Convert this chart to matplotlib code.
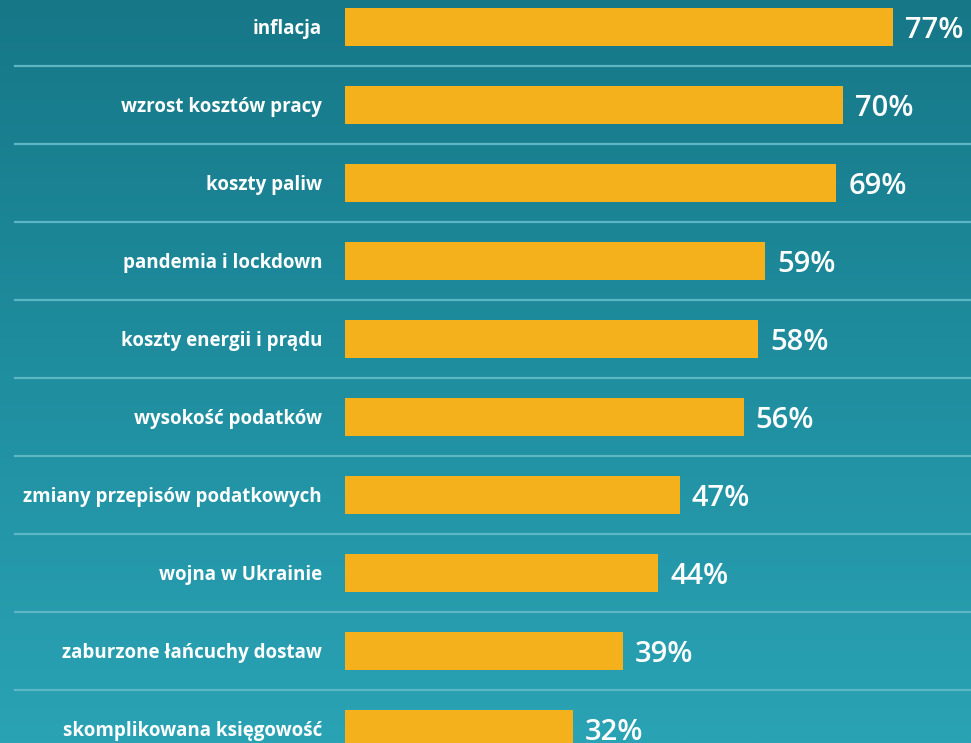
import numpy as np
import matplotlib.pyplot as plt
from matplotlib.colors import LinearSegmentedColormap

# ── data ─────────────────────────────────────────────────────────────────────
labels = ["inflacja", "wzrost kosztów pracy", "koszty paliw",
          "pandemia i lockdown", "koszty energii i prądu", "wysokość podatków",
          "zmiany przepisów podatkowych", "wojna w Ukrainie",
          "zaburzone łańcuchy dostaw", "skomplikowana księgowość"]
values = [77, 70, 69, 59, 58, 56, 47, 44, 39, 32]

bar_col = "#F4B11B"
font = ["Open Sans", "DejaVu Sans"]

fig = plt.figure(figsize=(9.71, 7.43), dpi=100)

# background gradient
bg = fig.add_axes([0, 0, 1, 1], zorder=0)
cmap = LinearSegmentedColormap.from_list("bg", ["#167787", "#1f8e9f", "#2aa3b5"])
grad = np.linspace(0, 1, 256).reshape(-1, 1)
bg.imshow(grad, aspect="auto", cmap=cmap, extent=[0, 1, 0, 1], origin="upper")
bg.set_axis_off()

ax = fig.add_axes([0, 0, 1, 1], zorder=1)
ax.patch.set_alpha(0)
px = 7.12  # pixels per percent
ax.set_xlim(-345 / px, (971 - 345) / px)
ax.set_ylim((743 - 27) / 78, -27 / 78)
ax.set_axis_off()

y = np.arange(len(values))
ax.barh(y, values, height=0.49, color=bar_col, zorder=2)

# separator lines
for i in range(len(values) - 1):
    ax.plot([-330 / px, 100], [i + 0.5, i + 0.5], color="#5cb6c3",
            linewidth=1.6, zorder=1)

for i, (lab, v) in enumerate(zip(labels, values)):
    ax.text(-23 / px, i + 0.03, lab, ha="right", va="center", color="white",
            fontsize=13.5, fontweight="bold", family=font)
    ax.text(v + 12 / px, i + 0.04, f"{v}%", ha="left", va="center",
            color="white", fontsize=21, fontweight="semibold", family=font)

fig.savefig("out.png", dpi=100)
